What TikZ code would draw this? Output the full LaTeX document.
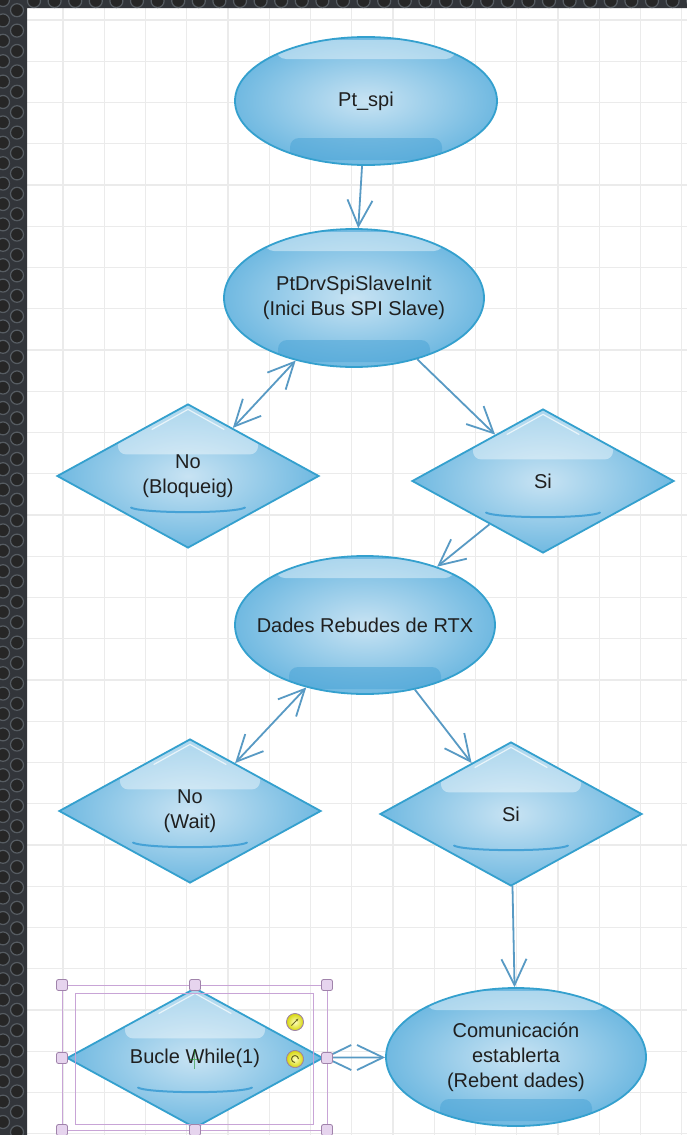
\documentclass[tikz,border=0pt]{standalone}
\usepackage{fontspec}
\setmainfont{Liberation Sans}
\usetikzlibrary{shapes.geometric, arrows.meta}

\definecolor{nodeline}{RGB}{52,160,206}
\definecolor{nodelight}{RGB}{200,227,243}
\definecolor{nodemid}{RGB}{112,185,225}
\definecolor{nodedark}{RGB}{70,162,214}
\definecolor{linkblue}{RGB}{88,154,196}
\definecolor{gridgrey}{RGB}{235,235,235}
\definecolor{metal}{RGB}{50,53,58}
\definecolor{holerim}{RGB}{86,92,98}
\definecolor{selpurple}{RGB}{200,164,214}
\definecolor{handlefill}{RGB}{230,212,238}

\tikzset{
  glossy/.style={draw=nodeline, line width=1.8pt, inner xsep=-20pt, inner ysep=0pt,
    align=center, inner color=nodelight, outer color=nodemid, text=black!88,
    font=\fontsize{20}{25}\selectfont},
  bubble/.style={glossy, ellipse, minimum width=260pt, minimum height=138pt,
    path picture={
      \fill[white, opacity=.42, rounded corners=10pt]
        ([shift={(-90pt,-3pt)}]path picture bounding box.north) rectangle
        ([shift={(90pt,-22pt)}]path picture bounding box.north);
      \fill[nodedark, opacity=.5, rounded corners=9pt]
        ([shift={(-76pt,27pt)}]path picture bounding box.south) rectangle
        ([shift={(76pt,5pt)}]path picture bounding box.south);
    }},
  choice/.style={glossy, diamond, aspect=1.8, minimum width=262pt, minimum height=144pt,
    path picture={
      \fill[white, opacity=.42, rounded corners=8pt]
        ([shift={(-70pt,4pt)}]path picture bounding box.north) rectangle
        ([shift={(70pt,-50pt)}]path picture bounding box.north);
      \draw[white, opacity=.7, line width=1.2pt, line cap=round]
        ([shift={(-36pt,-25pt)}]path picture bounding box.north) --
        ([shift={(0pt,-5pt)}]path picture bounding box.north) --
        ([shift={(36pt,-25pt)}]path picture bounding box.north);
      \draw[nodedark, line width=2pt, line cap=round]
        ([shift={(-57pt,40pt)}]path picture bounding box.south) .. controls
        ([shift={(-45pt,34pt)}]path picture bounding box.south) and
        ([shift={(45pt,34pt)}]path picture bounding box.south) ..
        ([shift={(57pt,40pt)}]path picture bounding box.south);
    }},
  link/.style={draw=linkblue, line width=1.8pt},
  gridline/.style={draw=gridgrey, line width=1.3pt},
  hole/.style={fill=black!85, draw=holerim, line width=1.2pt},
  handle/.style={fill=handlefill, draw=selpurple!80!black, line width=0.8pt, rounded corners=2pt},
  knob/.style={inner color=yellow!25, outer color=yellow!60!olive!80, draw=selpurple!80!black, line width=0.8pt}
}

\begin{document}
\begin{tikzpicture}[x=1pt, y=-1pt, >={Straight Barb[length=26pt,width=25pt]}]
\useasboundingbox (0,0) rectangle (687,1135);

% paper with grid
\fill[white] (0,0) rectangle (687,1135);
\foreach \k in {0,...,16}
  \draw[gridline] (21.75+41.25*\k,0) -- (21.75+41.25*\k,1135);
\foreach \k in {0,...,27}
  \draw[gridline] (0,20+41.25*\k) -- (687,20+41.25*\k);

% perforated metal frame
\begin{scope}
  \clip (0,0) rectangle (27,1135) (27,0) rectangle (687,8);
  \fill[metal] (0,0) rectangle (687,1135);
  \foreach \j in {0,...,57} {
    \filldraw[hole] (3,20.4*\j) circle (6.5pt);
    \filldraw[hole] (17,20.4*\j+10.2) circle (6.5pt);
  }
  \foreach \i in {0,...,32}
    \filldraw[hole] (34+20.6*\i,1) circle (6.5pt);
\end{scope}

% flow
\node[bubble, minimum width=262pt, minimum height=128pt] (spi) at (366,101) {Pt\_spi};
\node[bubble] (init) at (354,298) {PtDrvSpiSlaveInit\\(Inici Bus SPI Slave)};
\node[choice] (bloq) at (188,476) {No\\(Bloqueig)};
\node[choice] (si1) at (543,481) {Si};
\node[bubble] (rtx) at (365,625) {Dades Rebudes de RTX};
\node[choice] (wait) at (190,811) {No\\(Wait)};
\node[choice] (si2) at (511,814) {Si};
\node[choice, minimum width=256pt, minimum height=140pt] (loop) at (195,1058) {Bucle While(1)};
\node[bubble] (comm) at (516,1057) {Comunicación\\establerta\\(Rebent dades)};

\draw[link,->] (spi) -- (init);
\draw[link,<->] (init) -- (bloq);
\draw[link,->] (init) -- (si1);
\draw[link,->] (si1) -- (rtx);
\draw[link,<->] (rtx) -- (wait);
\draw[link,->] (rtx) -- (si2);
\draw[link,->] (si2) -- (comm);
\draw[link,<->] (loop) -- (comm);

% selection frame on the loop
\draw[selpurple, line width=1pt] (62,985) rectangle (327,1130);
\draw[selpurple, line width=1pt] (75,993) rectangle (313,1124);
\draw[green!50!black, opacity=.5, line width=0.6pt] (194,1049) -- (194,1069) (189,1059) -- (199,1059);
\foreach \hx/\hy in {62/985, 195/985, 327/985, 62/1058, 327/1058, 62/1130, 195/1130, 327/1130}
  \filldraw[handle] (\hx-5.5,\hy-5.5) rectangle ++(11,11);
\filldraw[knob] (295,1022) circle (8.5pt);
\draw[olive!70!black, line width=1pt, -{Stealth[length=3pt]}] (291.5,1025.5) -- (298.5,1018.5);
\filldraw[knob] (295,1059) circle (8.5pt);
\draw[olive!70!black, line width=1pt] (298.5,1059) arc[start angle=0, end angle=270, radius=3.5pt];

\end{tikzpicture}
\end{document}
